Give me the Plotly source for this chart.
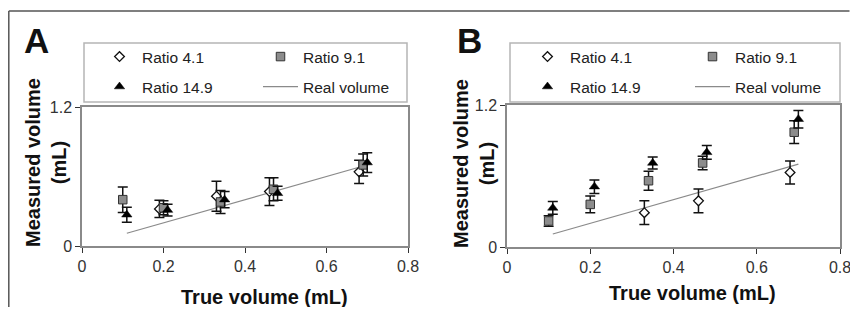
import plotly.graph_objects as go

# The page places the figure 8 px from the edges (body margin), so the figure
# is made smaller to avoid scrollbars and coordinates are shifted.
OFF = 8
W, H = 858 - 2 * OFF, 321 - 2 * OFF - 6

# ---------------- data ----------------
# Panel A
a41_x = [0.19, 0.33, 0.46, 0.68]
a41_y = [0.32, 0.43, 0.47, 0.64]
a41_e = [0.075, 0.13, 0.12, 0.10]

a91_x = [0.10, 0.20, 0.34, 0.47, 0.69]
a91_y = [0.40, 0.33, 0.38, 0.49, 0.70]
a91_e = [0.11, 0.06, 0.10, 0.10, 0.095]

a149_x = [0.11, 0.21, 0.35, 0.48, 0.70]
a149_y = [0.27, 0.31, 0.40, 0.455, 0.72]
a149_e = [0.065, 0.05, 0.07, 0.06, 0.085]

a_real = [0.11, 0.71]

# Panel B
b41_x = [0.33, 0.46, 0.68]
b41_y = [0.29, 0.39, 0.63]
b41_e = [0.10, 0.10, 0.097]

b91_x = [0.10, 0.20, 0.34, 0.47, 0.69]
b91_y = [0.22, 0.36, 0.56, 0.71, 0.97]
b91_e = [0.045, 0.07, 0.08, 0.057, 0.096]

b149_x = [0.11, 0.21, 0.35, 0.48, 0.70]
b149_y = [0.33, 0.51, 0.71, 0.80, 1.08]
b149_e = [0.054, 0.057, 0.05, 0.058, 0.074]

b_real = [0.11, 0.70]

x_ticks = [0, 0.2, 0.4, 0.6, 0.8]
x_ticklabels = ["0", "0.2", "0.4", "0.6", "0.8"]
y_ticks = [0, 1.2]
y_ticklabels = ["0", "1.2"]

names = ["Ratio 4.1", "Ratio 9.1", "Ratio 14.9", "Real volume"]

# ---------------- helpers (window pixels -> paper fractions) ----------------
def px(x):
    return (x - OFF) / W

def py(y):
    return 1 - (y - OFF) / H

FONT = "Liberation Sans, Arial, sans-serif"

fig = go.Figure()

def err(e):
    return dict(type="data", array=e, visible=True, color="#111", thickness=1.5, width=5)

def add_panel(xa, ya, s41, s91, s149, real, legs):
    fig.add_trace(go.Scatter(x=real, y=real, mode="lines", name=names[3],
                             line=dict(color="#8a8a8a", width=1.2),
                             xaxis=xa, yaxis=ya, legend=legs[3]))
    fig.add_trace(go.Scatter(x=s41[0], y=s41[1], mode="markers", name=names[0],
                             error_y=err(s41[2]),
                             marker=dict(symbol="diamond", size=7.5, color="white",
                                         line=dict(color="#111", width=1.3)),
                             xaxis=xa, yaxis=ya, legend=legs[0]))
    fig.add_trace(go.Scatter(x=s91[0], y=s91[1], mode="markers", name=names[1],
                             error_y=err(s91[2]),
                             marker=dict(symbol="square", size=8.5, color="#8c8c8c",
                                         line=dict(color="#333", width=1)),
                             xaxis=xa, yaxis=ya, legend=legs[1]))
    fig.add_trace(go.Scatter(x=s149[0], y=s149[1], mode="markers", name=names[2],
                             error_y=err(s149[2]),
                             marker=dict(symbol="triangle-up", size=9, color="#000",
                                         line=dict(color="#000", width=0.5)),
                             xaxis=xa, yaxis=ya, legend=legs[2]))

add_panel("x", "y", (a41_x, a41_y, a41_e), (a91_x, a91_y, a91_e),
          (a149_x, a149_y, a149_e), a_real,
          ["legend", "legend2", "legend3", "legend4"])
add_panel("x2", "y2", (b41_x, b41_y, b41_e), (b91_x, b91_y, b91_e),
          (b149_x, b149_y, b149_e), b_real,
          ["legend5", "legend6", "legend7", "legend8"])

axis_common = dict(showgrid=False, zeroline=False, showline=True, mirror=True,
                   linecolor="#8a8a8a", linewidth=1.5, ticks="outside", ticklen=5,
                   tickwidth=1, tickcolor="#333", ticklabeloverflow="allow",
                   tickfont=dict(family=FONT, size=16, color="#333"))

layout = dict(
    width=W, height=H, autosize=False,
    margin=dict(l=0, r=0, t=0, b=0, autoexpand=False),
    paper_bgcolor="white", plot_bgcolor="white",
    showlegend=True,
    xaxis=dict(domain=[px(82), px(408)], range=[0, 0.8], tickvals=x_ticks,
               ticktext=x_ticklabels, anchor="y", **axis_common),
    yaxis=dict(domain=[py(246), py(107)], range=[0, 1.2], tickvals=y_ticks,
               ticktext=y_ticklabels, anchor="x", **axis_common),
    xaxis2=dict(domain=[px(507), px(840)], range=[0, 0.8], tickvals=x_ticks,
                ticktext=x_ticklabels, anchor="y2", **axis_common),
    yaxis2=dict(domain=[py(247), py(105)], range=[0, 1.2], tickvals=y_ticks,
                ticktext=y_ticklabels, anchor="x2", **axis_common),
)

# legends: one per entry, arranged as a 2x2 grid in each panel
leg_pos = {
    "legend": (97, 57), "legend2": (258, 57), "legend3": (97, 87), "legend4": (258, 87),
    "legend5": (525, 57), "legend6": (690, 57), "legend7": (525, 87), "legend8": (690, 87),
}
for k, (lx, ly) in leg_pos.items():
    layout[k] = dict(x=px(lx), y=py(ly), xanchor="left", yanchor="middle",
                     bgcolor="rgba(0,0,0,0)", borderwidth=0, itemwidth=35,
                     font=dict(family=FONT, size=15.5, color="#222"))

fig.update_layout(**layout)

# frames
shapes = [
    dict(type="line", xref="paper", yref="paper", x0=px(8.8), x1=px(849.5), y0=py(11), y1=py(11),
         line=dict(color="#555", width=1.5)),
    dict(type="line", xref="paper", yref="paper", x0=px(8.8), x1=px(8.8), y0=py(11), y1=0,
         line=dict(color="#555", width=1.5)),
    dict(type="rect", xref="paper", yref="paper", x0=px(84), x1=px(407), y0=py(102), y1=py(43),
         line=dict(color="#b5b5b5", width=1.5)),
    dict(type="rect", xref="paper", yref="paper", x0=px(510), x1=px(840), y0=py(102), y1=py(43),
         line=dict(color="#b5b5b5", width=1.5)),
]
fig.update_layout(shapes=shapes)

ann = []
def txt(text, x, y, size, angle=0, xanchor="center", yanchor="middle"):
    ann.append(dict(text=text, xref="paper", yref="paper", x=px(x), y=py(y),
                    xanchor=xanchor, yanchor=yanchor, showarrow=False, textangle=angle,
                    font=dict(family=FONT, size=size, color="#111")))

txt("<b>A</b>", 37, 40, 35)
txt("<b>B</b>", 469, 40, 35)
txt("<b>Measured volume<br>(mL)</b>", 46, 163, 20, angle=-90)
txt("<b>Measured volume<br>(mL)</b>", 474, 163, 20, angle=-90)
txt("<b>True volume (mL)</b>", 264, 297, 20)
txt("<b>True volume (mL)</b>", 692, 293, 20)
fig.update_layout(annotations=ann)

fig.write_html("out.html")
